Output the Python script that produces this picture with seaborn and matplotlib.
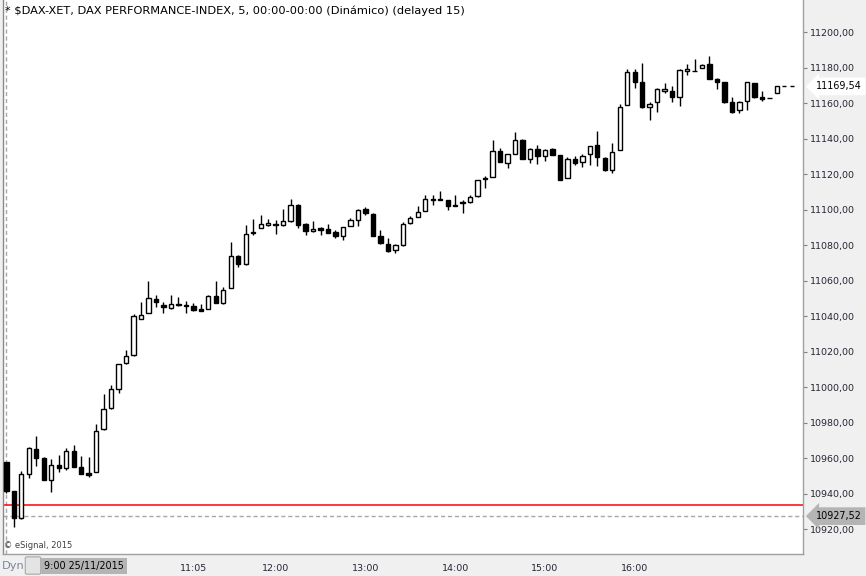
import numpy as np
import pandas as pd
import matplotlib
matplotlib.use("Agg")
import matplotlib.pyplot as plt
from matplotlib.patches import FancyBboxPatch
import seaborn as sns

# 5-minute bars of 25/11/2015, first bar at 9:00
opens = [10958.1, 10941.7, 10926.7, 10951.1, 10965.3, 10960.2, 10947.8, 10956.2, 10954.9, 10964.1,
         10955.1, 10951.9, 10952.3, 10976.5, 10988.4, 10999.1, 11013.8, 11018.3, 11038.6, 11042.0,
         11049.9, 11046.7, 11044.6, 11047.1, 11046.5, 11046.1, 11044.0, 11044.3, 11051.6, 11047.4,
         11056.1, 11074.2, 11069.6, 11086.9, 11090.0, 11091.7, 11092.0, 11091.7, 11093.7, 11102.5,
         11092.0, 11088.0, 11089.6, 11089.4, 11087.3, 11085.2, 11090.9, 11094.5, 11100.7, 11097.9,
         11085.4, 11080.9, 11077.5, 11080.4, 11092.8, 11096.0, 11099.6, 11105.5, 11105.5, 11105.8,
         11102.9, 11104.2, 11104.4, 11107.6, 11117.2, 11118.5, 11133.4, 11126.4, 11131.7, 11139.2,
         11128.5, 11134.5, 11130.6, 11134.4, 11130.8, 11118.2, 11128.5, 11127.2, 11131.7, 11136.8,
         11129.1, 11122.7, 11134.0, 11158.8, 11177.4, 11172.0, 11158.0, 11160.5, 11167.0, 11166.9,
         11163.7, 11178.3, 11178.4, 11179.7, 11182.1, 11173.6, 11171.8, 11160.5, 11156.5, 11161.2,
         11171.6, 11163.3, 11162.9, 11166.1, 11169.54, 11169.54]
highs = [10958.1, 10941.7, 10953.0, 10966.5, 10972.8, 10960.9, 10959.9, 10962.0, 10966.0, 10967.7,
         10961.5, 10960.9, 10979.4, 10996.3, 11001.5, 11013.2, 11021.3, 11041.4, 11048.4, 11060.2,
         11051.8, 11048.0, 11051.8, 11051.2, 11048.9, 11047.6, 11047.1, 11052.2, 11059.8, 11056.4,
         11081.8, 11074.7, 11091.3, 11094.6, 11096.9, 11095.0, 11094.5, 11100.3, 11106.3, 11103.1,
         11092.6, 11093.5, 11090.3, 11091.8, 11088.8, 11090.3, 11095.4, 11100.3, 11101.6, 11098.4,
         11088.4, 11084.1, 11080.9, 11093.1, 11096.3, 11102.0, 11108.6, 11108.2, 11110.4, 11105.8,
         11108.2, 11105.4, 11108.2, 11117.0, 11118.9, 11139.2, 11135.1, 11131.7, 11143.6, 11139.8,
         11134.9, 11136.8, 11134.5, 11135.0, 11130.8, 11129.8, 11130.2, 11131.7, 11136.2, 11144.3,
         11129.8, 11137.4, 11159.9, 11179.1, 11179.1, 11182.7, 11160.5, 11168.7, 11171.4, 11169.9,
         11179.3, 11181.9, 11184.9, 11181.9, 11186.8, 11174.0, 11171.8, 11163.7, 11161.2, 11172.1,
         11171.6, 11166.9, 11162.9, 11169.54, 11169.54, 11169.54]
lows = [10940.6, 10921.4, 10925.9, 10948.9, 10955.8, 10948.1, 10941.3, 10952.6, 10953.6, 10955.4,
        10951.1, 10949.8, 10952.3, 10976.1, 10987.8, 10996.6, 11013.2, 11017.7, 11038.6, 11042.0,
        11045.2, 11041.8, 11044.3, 11046.1, 11041.8, 11043.3, 11043.3, 11044.3, 11047.4, 11047.1,
        11056.1, 11067.7, 11069.1, 11086.0, 11090.0, 11090.7, 11086.6, 11090.9, 11093.1, 11089.7,
        11086.0, 11087.5, 11085.6, 11087.1, 11084.1, 11083.2, 11090.9, 11090.9, 11097.3, 11085.1,
        11080.9, 11076.2, 11075.6, 11079.6, 11092.2, 11096.0, 11099.6, 11102.9, 11105.5, 11099.7,
        11102.4, 11098.2, 11104.1, 11107.2, 11112.3, 11118.5, 11127.0, 11123.6, 11131.2, 11128.7,
        11126.6, 11126.1, 11127.4, 11130.8, 11116.7, 11118.2, 11125.1, 11124.2, 11125.1, 11124.7,
        11121.9, 11121.0, 11134.0, 11158.8, 11168.4, 11157.6, 11150.9, 11155.2, 11165.6, 11160.8,
        11158.6, 11175.9, 11178.2, 11179.7, 11173.6, 11167.8, 11160.3, 11154.3, 11154.3, 11156.2,
        11163.1, 11161.2, 11162.9, 11166.1, 11169.54, 11169.54]
closes = [10941.7, 10926.7, 10951.1, 10965.8, 10960.5, 10948.1, 10956.2, 10954.5, 10964.1, 10955.4,
          10951.5, 10950.9, 10975.4, 10987.8, 10999.1, 11013.2, 11017.7, 11040.1, 11041.0, 11050.5,
          11048.0, 11045.2, 11047.1, 11046.3, 11046.0, 11043.7, 11043.3, 11051.6, 11047.4, 11055.1,
          11074.2, 11069.6, 11086.6, 11087.7, 11092.2, 11092.4, 11091.3, 11093.5, 11102.5, 11091.7,
          11088.0, 11089.4, 11088.4, 11087.1, 11085.2, 11090.3, 11094.1, 11099.7, 11098.2, 11085.2,
          11081.5, 11077.1, 11080.4, 11092.2, 11095.6, 11098.8, 11106.3, 11106.3, 11106.1, 11102.2,
          11102.4, 11103.7, 11107.5, 11117.0, 11117.8, 11133.4, 11127.0, 11131.3, 11139.1, 11128.7,
          11134.3, 11130.4, 11134.0, 11131.0, 11117.0, 11128.5, 11126.4, 11130.6, 11136.2, 11129.5,
          11122.7, 11132.8, 11157.7, 11177.4, 11172.1, 11158.0, 11159.9, 11167.9, 11167.8, 11163.7,
          11178.7, 11179.3, 11178.4, 11181.5, 11173.6, 11172.1, 11160.8, 11154.9, 11160.8, 11171.8,
          11163.7, 11162.5, 11162.9, 11169.54, 11169.54, 11169.54]

last_price = 11169.54
low_mark = 10927.52
prev_close = 10933.8

tick_times = ["10:05", "11:05", "12:00", "13:00", "14:00", "15:00", "16:00", "17:45"]
tick_labels = ["", "11:05", "12:00", "13:00", "14:00", "15:00", "16:00", ""]
y_ticks = list(range(10920, 11201, 20))

times = pd.date_range("2015-11-25 09:00", periods=len(opens), freq="5min").strftime("%-H:%M")
df = pd.DataFrame({"bar": np.arange(len(opens)), "open": opens, "high": highs,
                   "low": lows, "close": closes, "time": times})
df["bottom"] = df[["open", "close"]].min(axis=1)
df["body"] = (df["close"] - df["open"]).abs()
df["fill"] = np.where(df["close"] < df["open"], "black", "white")

sns.set_style("white")
plt.rcParams["font.family"] = ["DejaVu Sans"]

fig = plt.figure(figsize=(8.66, 5.76), dpi=100, facecolor="#f0f0f0")
ax = fig.add_axes([3 / 866, 22 / 576, 800 / 866, 554 / 576])
ax.set_facecolor("white")

# wicks then bodies
ax.vlines(df["bar"], df["low"], df["high"], color="black", lw=1, zorder=2)
sns.barplot(data=df, x="bar", y="body", bottom=df["bottom"], errorbar=None, width=0.58,
            color="white", saturation=1, edgecolor="black", linewidth=1.0, zorder=3, ax=ax)
for patch, fc in zip(ax.patches, df["fill"]):
    patch.set_facecolor(fc)

ax.axvline(0, color="#a8a8a8", ls=(0, (3, 2)), lw=1, zorder=1)
ax.axhline(low_mark, color="#a8a8a8", ls=(0, (3, 2)), lw=1, zorder=1)
ax.axhline(prev_close, color="red", lw=1.1, zorder=1)

ax.set_xlim(-0.45, 106.5)
ax.set_ylim(10906.2, 11218.2)
ax.set_xlabel("")
ax.set_ylabel("")

tick_pos = [list(df["time"]).index(t) for t in tick_times]
ax.set_xticks(tick_pos)
ax.set_xticklabels(tick_labels)
ax.yaxis.tick_right()
ax.set_yticks(y_ticks)
ax.set_yticklabels([f"{v:.2f}".replace(".", ",") for v in y_ticks])
ax.tick_params(axis="both", direction="out", length=3, width=0.8, color="#808080",
               labelsize=6.8, labelcolor="#252535", pad=2)
ax.tick_params(axis="x", pad=4)
for s in ax.spines.values():
    s.set_color("#a0a0a0")
    s.set_linewidth(1)
ax.spines["top"].set_visible(False)
ax.spines["left"].set_color("#8a8a8a")

ax.text(2 / 800, 1 - 11 / 554, "* $DAX-XET, DAX PERFORMANCE-INDEX, 5, 00:00-00:00 (Dinámico) (delayed 15)",
        transform=ax.transAxes, fontsize=8.2, va="center", ha="left", color="black")
ax.text(1 / 800, 9 / 554, "© eSignal, 2015", transform=ax.transAxes, fontsize=6,
        va="center", ha="left", color="#404040")

# price tags on the right axis
ax.text(1.016, last_price, f"{last_price:.2f}".replace(".", ","), transform=ax.get_yaxis_transform(),
        fontsize=6.9, va="center", ha="left", color="black", clip_on=False,
        bbox=dict(boxstyle="larrow,pad=0.4", fc="white", ec="none"))
ax.text(1.016, low_mark, f"{low_mark:.2f}".replace(".", ","), transform=ax.get_yaxis_transform(),
        fontsize=6.9, va="center", ha="left", color="black", clip_on=False,
        bbox=dict(boxstyle="larrow,pad=0.4", fc="#b4b4b4", ec="none"))

# bottom bar widgets
fig.text(2 / 866, 10 / 576, "Dyn", fontsize=8.2, color="#7a86a0", va="center", ha="left")
fig.patches.append(FancyBboxPatch((27 / 866, 3 / 576), 12 / 866, 15 / 576,
                                  boxstyle="round,pad=0.002", fc="#e4e4e4", ec="#a8a8a8",
                                  lw=0.8, transform=fig.transFigure, figure=fig))
fig.text(84 / 866, 10 / 576, "9:00 25/11/2015", fontsize=6.9, color="black", va="center", ha="center",
         bbox=dict(boxstyle="square,pad=0.35", fc="#b4b4b4", ec="none"))

fig.savefig("out.png", dpi=100, facecolor=fig.get_facecolor())
